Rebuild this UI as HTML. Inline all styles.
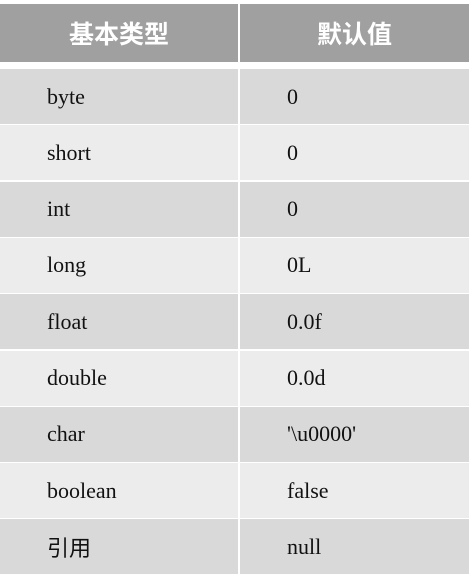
<!DOCTYPE html>
<html><head><meta charset="utf-8"><style>
body{margin:0;background:#fff;width:471px;height:577px;overflow:hidden}
.c{position:absolute;font-family:"Liberation Serif",serif;font-size:22px;color:#111;box-sizing:border-box;display:flex;align-items:center}
.h{background:#a0a0a0;color:#fff;font-family:"Liberation Sans","Noto Sans CJK SC",sans-serif;font-weight:bold;font-size:25px;justify-content:center}
</style></head><body>
<div class="c h" style="left:0;top:4px;width:238px;height:58px">基本类型</div>
<div class="c h" style="left:240px;top:4px;width:229px;height:58px">默认值</div>
<div id="rows"></div>
<script>
var r=[["byte","0"],["short","0"],["int","0"],["long","0L"],["float","0.0f"],["double","0.0d"],["char","'\\u0000'"],["boolean","false"],["引用","null"]];
var h="";r.forEach(function(x,i){var t=69+i*56.3,bg=i%2?"#ececec":"#d9d9d9";
var f=i==8?'font-family:"Noto Sans CJK SC",sans-serif;font-size:25px;':'';
h+='<div class="c" style="left:0;top:'+t+'px;width:238px;height:55px;background:'+bg+';padding-left:47px;'+f+'">'+x[0]+'</div>';
h+='<div class="c" style="left:240px;top:'+t+'px;width:229px;height:55px;background:'+bg+';padding-left:47px">'+x[1]+'</div>';});
document.getElementById("rows").innerHTML=h;
</script>
</body></html>
